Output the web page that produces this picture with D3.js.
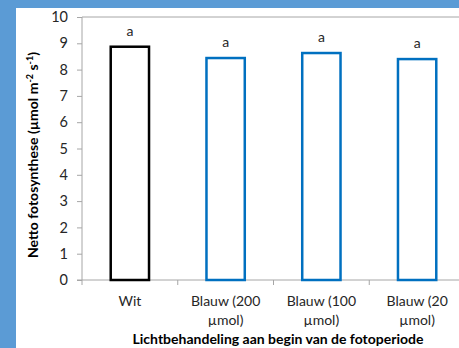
<!DOCTYPE html>
<html>
<head>
<meta charset="utf-8">
<script src="https://cdn.jsdelivr.net/npm/d3@7"></script>
<style>
  body { margin: 0; background: #5b9bd5; }
  svg { display: block; }
  text { font-family: Lato, "Open Sans", sans-serif; }
</style>
</head>
<body>
<svg></svg>
<script>
// chart data
const categories = ["Wit", "Blauw (200 µmol)", "Blauw (100 µmol)", "Blauw (20 µmol)"];
const catLines = [["Wit"], ["Blauw (200", "µmol)"], ["Blauw (100", "µmol)"], ["Blauw (20", "µmol)"]];
const values = [8.87, 8.44, 8.63, 8.40];
const letters = ["a", "a", "a", "a"];
const yTicks = [0, 1, 2, 3, 4, 5, 6, 7, 8, 9, 10];

const WIDTH = 459, HEIGHT = 348;
const PLOT = {left: 82, right: 465, top: 17, bottom: 280};
const AXIS_COLOR = "#a6a6a6";
const TEXT_COLOR = "#262626";

const svg = d3.select("svg").attr("width", WIDTH).attr("height", HEIGHT);

// white panel over the blue background
svg.append("rect").attr("x", 16).attr("y", 8).attr("width", WIDTH - 16).attr("height", HEIGHT - 8).attr("fill", "#fff");

const x = d3.scaleBand().domain(categories).range([PLOT.left, PLOT.right]).paddingInner(0.6).paddingOuter(0.3);
const y = d3.scaleLinear().domain([0, 10]).range([PLOT.bottom, PLOT.top]);

// plot area top border
svg.append("line").attr("x1", PLOT.left).attr("x2", PLOT.right)
  .attr("y1", y(10)).attr("y2", y(10)).attr("stroke", AXIS_COLOR).attr("stroke-width", 1);

// y axis
const yAxis = svg.append("g").attr("transform", `translate(${PLOT.left},0)`)
  .call(d3.axisLeft(y).tickValues(yTicks).tickSize(5).tickPadding(9));
yAxis.selectAll("path, line").attr("stroke", AXIS_COLOR);
yAxis.select(".domain").attr("d", `M0,${y(10)}V${y(0)}`);
yAxis.selectAll("text").attr("font-size", 14.5).attr("fill", TEXT_COLOR).attr("font-family", "Lato, sans-serif");

// x axis line and band ticks
const bandStep = x.step();
const xg = svg.append("g");
xg.append("line").attr("x1", PLOT.left - 5).attr("x2", PLOT.right)
  .attr("y1", y(0)).attr("y2", y(0)).attr("stroke", AXIS_COLOR);
xg.selectAll(".xtick").data(d3.range(categories.length + 1)).enter().append("line")
  .attr("x1", i => PLOT.left + i * bandStep).attr("x2", i => PLOT.left + i * bandStep)
  .attr("y1", y(0)).attr("y2", y(0) + 5).attr("stroke", AXIS_COLOR);

// bars
svg.selectAll(".bar").data(values).enter().append("rect")
  .attr("x", (d, i) => x(categories[i]))
  .attr("y", d => y(d))
  .attr("width", x.bandwidth())
  .attr("height", d => y(0) - y(d))
  .attr("fill", "none")
  .attr("stroke", (d, i) => i === 0 ? "#000" : "#0070c0")
  .attr("stroke-width", 2.5);

// significance letters
svg.selectAll(".lett").data(values).enter().append("text")
  .attr("x", (d, i) => x(categories[i]) + x.bandwidth() / 2)
  .attr("y", d => y(d) - 11)
  .attr("text-anchor", "middle")
  .attr("font-size", 14).attr("fill", TEXT_COLOR)
  .text((d, i) => letters[i]);

// category labels
catLines.forEach((lines, i) => {
  const t = svg.append("text")
    .attr("x", x(categories[i]) + x.bandwidth() / 2)
    .attr("y", 306)
    .attr("text-anchor", "middle")
    .attr("font-size", 14).attr("fill", TEXT_COLOR);
  lines.forEach((l, j) => t.append("tspan")
    .attr("x", x(categories[i]) + x.bandwidth() / 2)
    .attr("dy", j === 0 ? 0 : 19).text(l));
});

// axis titles
svg.append("text")
  .attr("x", 278).attr("y", 344)
  .attr("text-anchor", "middle")
  .attr("font-size", 14).attr("font-weight", "bold").attr("fill", "#000")
  .text("Lichtbehandeling aan begin van de fotoperiode");

const yt = svg.append("text")
  .attr("transform", "translate(38,155) rotate(-90)")
  .attr("text-anchor", "middle")
  .attr("font-size", 14).attr("font-weight", "bold").attr("fill", "#000");
yt.append("tspan").text("Netto fotosynthese (µmol m");
yt.append("tspan").attr("font-size", 9).attr("dy", -5).text("-2");
yt.append("tspan").attr("dy", 5).text(" s");
yt.append("tspan").attr("font-size", 9).attr("dy", -5).text("-1");
yt.append("tspan").attr("dy", 5).text(")");
</script>
</body>
</html>
